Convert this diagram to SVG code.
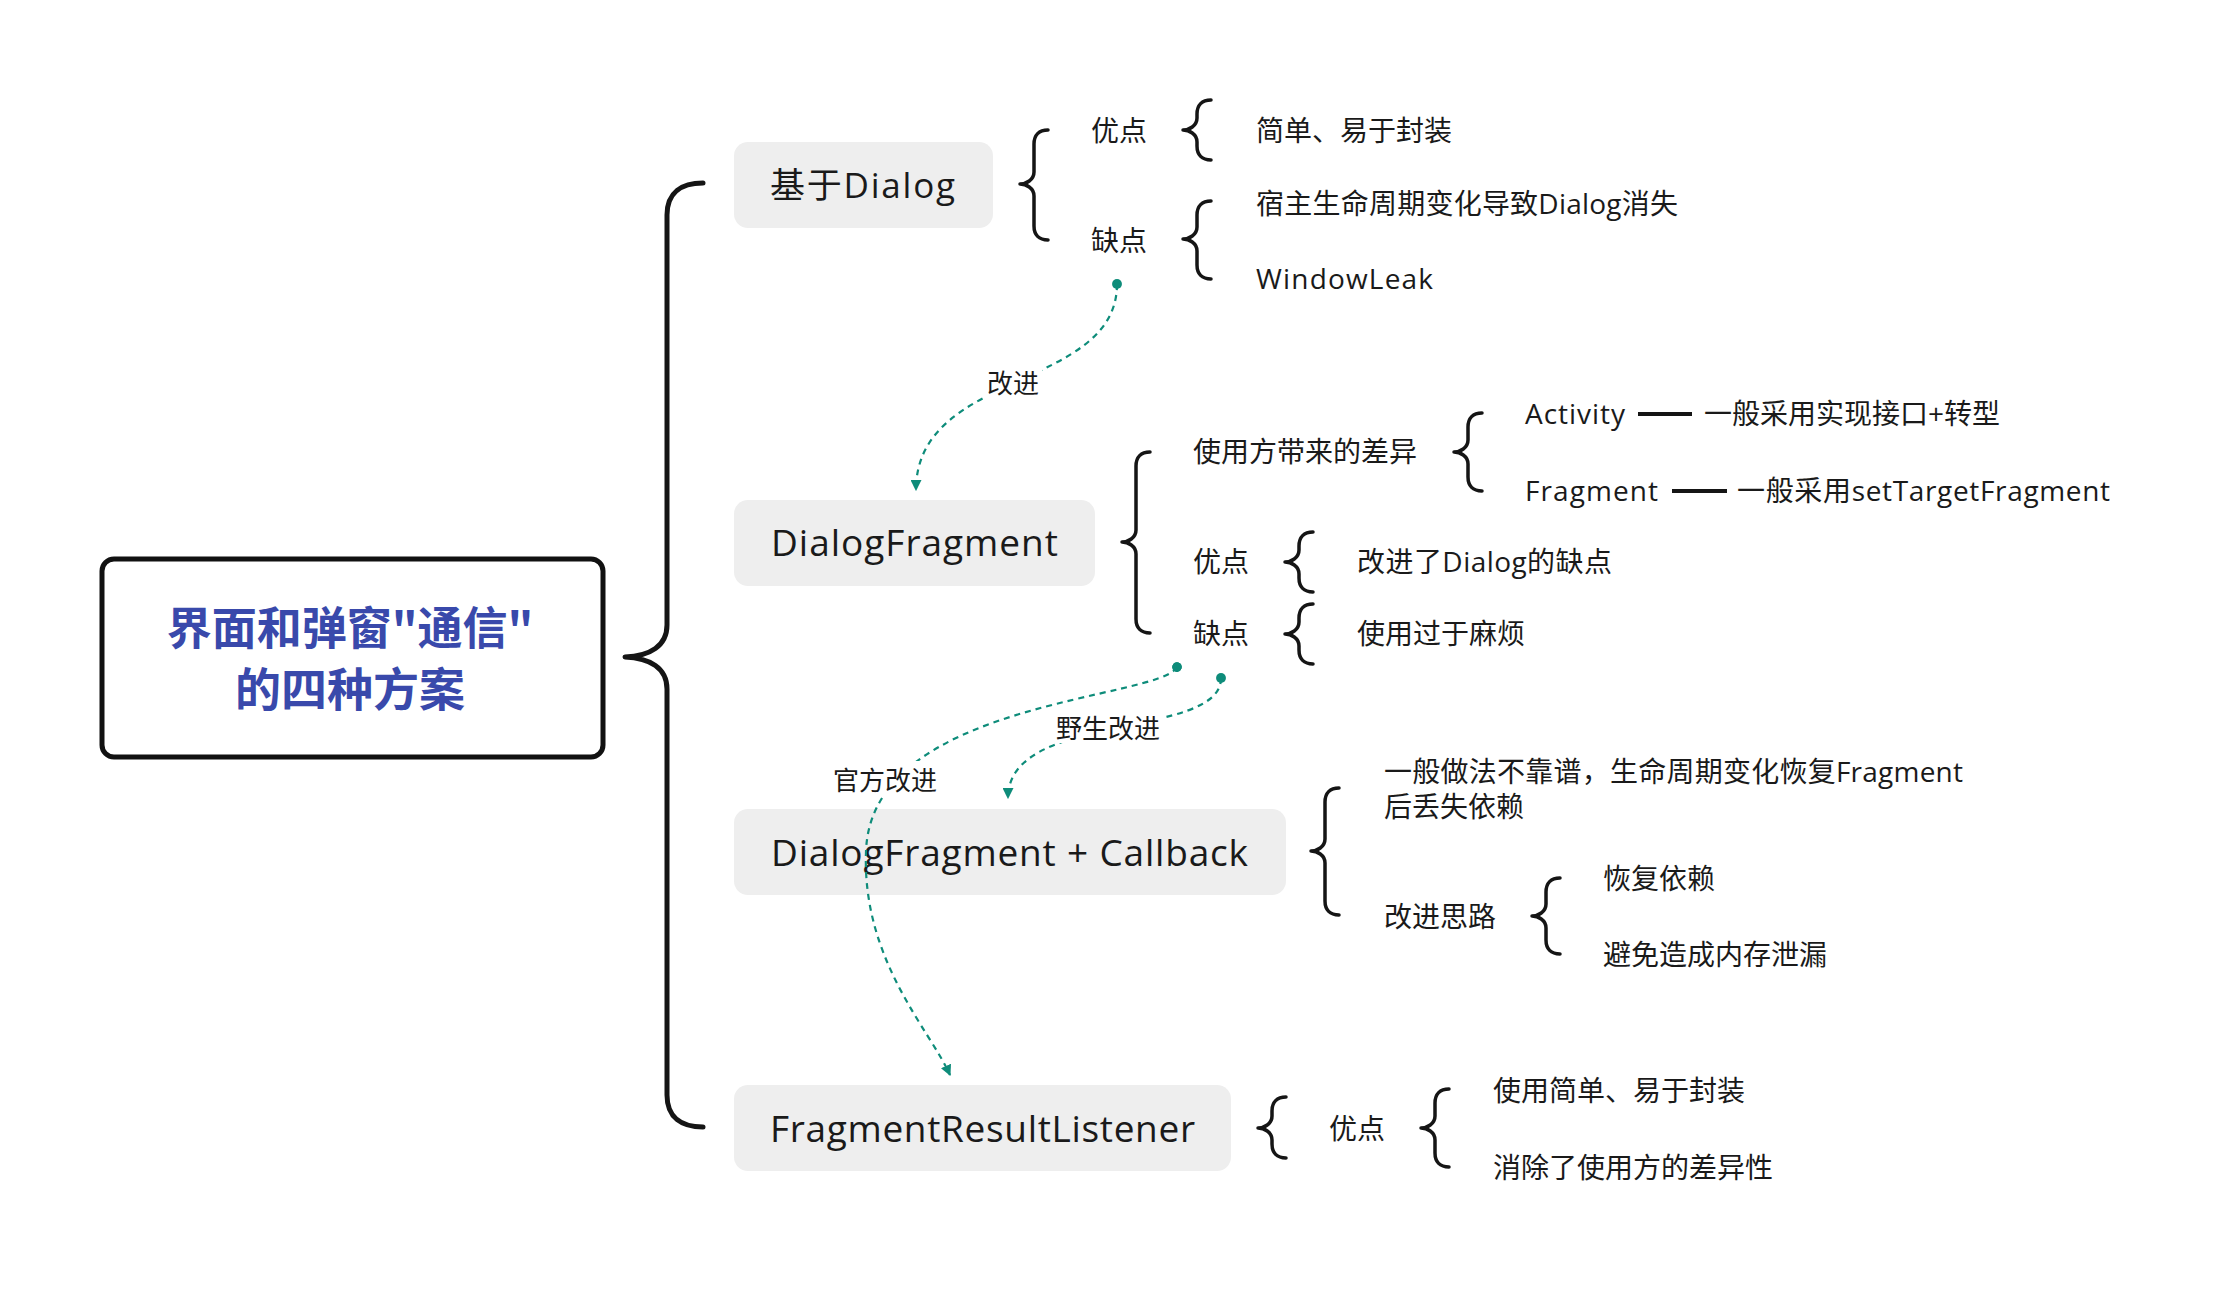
<svg xmlns="http://www.w3.org/2000/svg" width="2226" height="1296" viewBox="0 0 2226 1296">
<style>
.t{font-family:"Open Sans","Noto Sans CJK SC",sans-serif;font-size:28px;fill:#1a1a1a;dominant-baseline:central}
.nt{font-family:"Open Sans","Noto Sans CJK SC",sans-serif;font-size:37px;fill:#1a1a1a;dominant-baseline:central}
.node{fill:#eeeeee}
.br{fill:none;stroke:#151515;stroke-width:3.5;stroke-linecap:round;stroke-linejoin:round}
.cn{fill:none;stroke:#0e8c7a;stroke-width:2.2;stroke-dasharray:6 5}
.lb{font-family:"Noto Sans CJK SC",sans-serif;font-size:26px;fill:#1a1a1a;dominant-baseline:central;text-anchor:middle}
.dash{stroke:#151515;stroke-width:4}
</style>
<defs>
<marker id="arr" viewBox="0 0 10 10" refX="9" refY="5" markerWidth="5" markerHeight="5" orient="auto" markerUnits="strokeWidth">
<path d="M0,0 L10,5 L0,10 Z" fill="#0e8c7a"/>
</marker>
<marker id="dot" viewBox="0 0 10 10" refX="5" refY="5" markerWidth="4.5" markerHeight="4.5" orient="auto" markerUnits="strokeWidth">
<circle cx="5" cy="5" r="5" fill="#0e8c7a"/>
</marker>
</defs>
<rect width="2226" height="1296" fill="#ffffff"/>

<g id="root">
<rect x="102" y="559" width="501" height="198" rx="12" fill="#ffffff" stroke="#111" stroke-width="5"/>
<text x="350" y="625" text-anchor="middle" style="font-family:'Noto Sans CJK SC',sans-serif;font-size:45px;font-weight:bold;fill:#3949ab;dominant-baseline:central">界面和弹窗"通信"</text>
<text x="350" y="686" text-anchor="middle" style="font-family:'Noto Sans CJK SC',sans-serif;font-size:46px;font-weight:bold;fill:#3949ab;dominant-baseline:central">的四种方案</text>
</g>

<g id="n-dialog">
<rect class="node" x="734" y="142" width="259" height="86" rx="14"/>
<text class="nt" x="770" y="184" textLength="185" lengthAdjust="spacing" style="font-size:35px">基于Dialog</text>
</g>
<g id="n-dialog-sub">
<text class="t" x="1091" y="130">优点</text>
<text class="t" x="1091" y="240">缺点</text>
<text class="t" x="1256" y="130">简单、易于封装</text>
<text class="t" x="1256" y="203" textLength="422" lengthAdjust="spacing">宿主生命周期变化导致Dialog消失</text>
<text class="t" x="1256" y="278" textLength="177" lengthAdjust="spacing">WindowLeak</text>
</g>

<g id="n-dialogfragment">
<rect class="node" x="734" y="500" width="361" height="86" rx="14"/>
<text class="nt" x="771" y="541" textLength="287" lengthAdjust="spacing">DialogFragment</text>
</g>
<g id="n-dialogfragment-sub">
<text class="t" x="1193" y="451">使用方带来的差异</text>
<text class="t" x="1525" y="413" textLength="100" lengthAdjust="spacing">Activity</text>
<text class="t" x="1704" y="413">一般采用实现接口+转型</text>
<text class="t" x="1525" y="490" textLength="133" lengthAdjust="spacing">Fragment</text>
<text class="t" x="1737" y="490" textLength="373" lengthAdjust="spacing">一般采用setTargetFragment</text>
<text class="t" x="1193" y="561">优点</text>
<text class="t" x="1357" y="561" textLength="255" lengthAdjust="spacing">改进了Dialog的缺点</text>
<text class="t" x="1193" y="633">缺点</text>
<text class="t" x="1357" y="633">使用过于麻烦</text>
</g>

<g id="n-callback">
<rect class="node" x="734" y="809" width="552" height="86" rx="14"/>
<text class="nt" x="771" y="851" textLength="477" lengthAdjust="spacing">DialogFragment + Callback</text>
</g>
<g id="n-callback-sub">
<text class="t" x="1384" y="771" textLength="579" lengthAdjust="spacing">一般做法不靠谱，生命周期变化恢复Fragment</text>
<text class="t" x="1384" y="806">后丢失依赖</text>
<text class="t" x="1384" y="916">改进思路</text>
<text class="t" x="1603" y="878">恢复依赖</text>
<text class="t" x="1603" y="954">避免造成内存泄漏</text>
</g>

<g id="n-result">
<rect class="node" x="734" y="1085" width="497" height="86" rx="14"/>
<text class="nt" x="770" y="1127" textLength="425" lengthAdjust="spacing">FragmentResultListener</text>
</g>
<g id="n-result-sub">
<text class="t" x="1329" y="1128">优点</text>
<text class="t" x="1493" y="1090">使用简单、易于封装</text>
<text class="t" x="1493" y="1167">消除了使用方的差异性</text>
</g>

<g id="connectors">
<path class="br" style="stroke-width:5" d="M703,183 C682,183 667,192 667,215 L667,625 C667,646 650,656 625,657 C650,658 667,668 667,689 L667,1095 C667,1118 682,1127 703,1127"/>
<path class="br" d="M1048,130 C1039,130 1034,135 1034,144 L1034,172 C1034,180 1026,184 1020,184 C1026,184 1034,188 1034,196 L1034,226 C1034,235 1039,240 1048,240"/>
<path class="br" d="M1211,100 C1202,100 1197,105 1197,114 L1197,118 C1197,126 1189,130 1183,130 C1189,130 1197,134 1197,142 L1197,146 C1197,155 1202,160 1211,160"/>
<path class="br" d="M1211,201 C1202,201 1197,206 1197,215 L1197,227 C1197,235 1189,239 1183,239 C1189,239 1197,243 1197,251 L1197,265 C1197,274 1202,279 1211,279"/>
<path class="br" d="M1150,452 C1141,452 1136,457 1136,466 L1136,530 C1136,538 1128,542 1122,542 C1128,542 1136,546 1136,554 L1136,619 C1136,628 1141,633 1150,633"/>
<path class="br" d="M1482,413 C1473,413 1468,418 1468,427 L1468,440 C1468,448 1460,452 1454,452 C1460,452 1468,456 1468,464 L1468,477 C1468,486 1473,491 1482,491"/>
<path class="br" d="M1313,532 C1304,532 1299,537 1299,546 L1299,550 C1299,558 1291,562 1285,562 C1291,562 1299,566 1299,574 L1299,578 C1299,587 1304,592 1313,592"/>
<path class="br" d="M1313,604 C1304,604 1299,609 1299,618 L1299,622 C1299,630 1291,634 1285,634 C1291,634 1299,638 1299,646 L1299,650 C1299,659 1304,664 1313,664"/>
<path class="br" d="M1339,788 C1330,788 1325,793 1325,802 L1325,839 C1325,847 1317,851 1311,851 C1317,851 1325,855 1325,863 L1325,901 C1325,910 1330,915 1339,915"/>
<path class="br" d="M1560,878 C1551,878 1546,883 1546,892 L1546,904 C1546,912 1538,916 1532,916 C1538,916 1546,920 1546,928 L1546,940 C1546,949 1551,954 1560,954"/>
<path class="br" d="M1286,1097 C1277,1097 1272,1102 1272,1111 L1272,1116 C1272,1124 1264,1128 1258,1128 C1264,1128 1272,1132 1272,1140 L1272,1144 C1272,1153 1277,1158 1286,1158"/>
<path class="br" d="M1449,1089 C1440,1089 1435,1094 1435,1103 L1435,1116 C1435,1124 1427,1128 1421,1128 C1427,1128 1435,1132 1435,1140 L1435,1153 C1435,1162 1440,1167 1449,1167"/>
<line class="dash" x1="1638" y1="414" x2="1692" y2="414"/>
<line class="dash" x1="1672" y1="491" x2="1727" y2="491"/>

<path class="cn" marker-start="url(#dot)" marker-end="url(#arr)" d="M1117,284 C1117,390 916,370 916,490"/>
<path class="cn" marker-start="url(#dot)" marker-end="url(#arr)" d="M1177,667 C1160,700 870,700 866,852 C862,960 930,1030 950,1075"/>
<path class="cn" marker-start="url(#dot)" marker-end="url(#arr)" d="M1221,678 C1221,740 1008,710 1008,798"/>
<rect x="984" y="364" width="58" height="34" fill="#ffffff"/>
<text class="lb" x="1013" y="381">改进</text>
<rect x="1052" y="709" width="112" height="34" fill="#ffffff"/>
<text class="lb" x="1108" y="726">野生改进</text>
<rect x="829" y="761" width="112" height="34" fill="#ffffff"/>
<text class="lb" x="885" y="778">官方改进</text>
</g>
</svg>
